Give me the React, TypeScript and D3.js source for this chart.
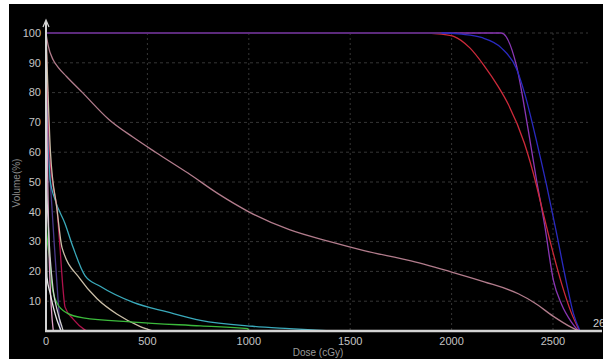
import React, { useEffect, useRef } from "react";
import * as d3 from "d3";

// DVH curves: [dose cGy, volume %]
const ptvViolet: [number, number][] = [
  [0, 100], [1000, 100], [2245, 100], [2320, 89], [2379, 67], [2418, 51],
  [2460, 35], [2502, 17], [2542, 9], [2591, 3], [2626, 0],
];
const ptvRed: [number, number][] = [
  [0, 100], [1850, 100], [1950, 99.6], [2013, 98.8], [2090, 95], [2161, 89],
  [2230, 82], [2280, 76], [2359, 63], [2418, 49], [2443, 42], [2490, 29],
  [2542, 16], [2591, 6], [2631, 0],
];
const ptvBlue: [number, number][] = [
  [0, 100], [1950, 100], [2050, 99.6], [2146, 98.5], [2245, 95], [2320, 88],
  [2359, 80], [2418, 64], [2468, 49], [2517, 33], [2567, 16], [2600, 6], [2633, 0],
];
const bodyMauve: [number, number][] = [
  [0, 100], [10, 96], [35, 91], [60, 88.5], [100, 85.5], [180, 80], [310, 71],
  [430, 65], [540, 60], [700, 53], [850, 46], [1000, 40], [1200, 34],
  [1400, 30], [1568, 27], [1800, 23.5], [2013, 19.5], [2161, 16.5],
  [2329, 12.5], [2408, 9.5], [2500, 5], [2591, 1.2], [2626, 0],
];
const cyanOar: [number, number][] = [
  [0, 88], [5, 80], [10, 70], [15, 60], [20, 51], [45, 44], [94, 36],
  [134, 28], [193, 18.5], [267, 15], [430, 9.6], [598, 6.4], [762, 3.6],
  [1019, 1.6], [1200, 0.8], [1404, 0],
];
const crimsonOar: [number, number][] = [
  [0, 100], [8, 80], [18, 60], [30, 51], [54, 41], [69, 28], [84, 14],
  [94, 8], [134, 4], [193, 0.3], [200, 0],
];
const tanOar: [number, number][] = [
  [0, 100], [10, 80], [22, 60], [54, 41], [79, 28], [168, 17.5], [252, 10.8],
  [351, 5.6], [465, 1.5], [530, 0],
];
const greenOar: [number, number][] = [
  [0, 38], [5, 32], [20, 23], [30, 15], [54, 9.4], [104, 6], [183, 4.4],
  [430, 3], [762, 1.7], [994, 0.8], [1000, 0],
];
const whiteA: [number, number][] = [
  [0, 42], [5, 18], [20, 12.8], [54, 3.7], [69, 1], [75, 0],
];
const whiteB: [number, number][] = [
  [0, 52], [20, 25], [35, 14], [59, 6], [79, 1.3], [85, 0],
];
const pinkOar: [number, number][] = [
  [0, 100], [3, 78], [6, 62], [10, 44], [16, 24], [26, 8], [36, 0],
];
const navyOar: [number, number][] = [
  [0, 100], [4, 80], [9, 65], [16, 55], [26, 45], [40, 30], [60, 10], [70, 0],
];

const curves = [
  { data: ptvViolet, color: "#8a36b4" },
  { data: ptvRed, color: "#cc2a3a" },
  { data: ptvBlue, color: "#2a2ac0" },
  { data: bodyMauve, color: "#b27c8c" },
  { data: navyOar, color: "#4a3a8a" },
  { data: cyanOar, color: "#3aaabb" },
  { data: crimsonOar, color: "#b0124c" },
  { data: tanOar, color: "#cbbfa8" },
  { data: greenOar, color: "#3cba3c" },
  { data: pinkOar, color: "#e0a0c8" },
  { data: whiteA, color: "#e6e6e6" },
  { data: whiteB, color: "#d0d0d0" },
];

const xTicks = [0, 500, 1000, 1500, 2000, 2500];
const yTicks = [10, 20, 30, 40, 50, 60, 70, 80, 90, 100];
const yGrid = [10, 20, 30, 40, 50, 60, 70, 80, 90, 100];

export default function App() {
  const svgRef = useRef<SVGSVGElement>(null);
  const width = 603;
  const height = 359;

  useEffect(() => {
    const svg = d3.select(svgRef.current);
    svg.selectAll("*").remove();

    const x = d3.scaleLinear().domain([0, 2500]).range([46, 553]);
    const y = d3.scaleLinear().domain([0, 100]).range([331, 33]);

    svg.append("rect").attr("width", width).attr("height", height).attr("fill", "#ffffff");
    svg.append("rect").attr("x", 9).attr("y", 4).attr("width", width - 9).attr("height", height - 4).attr("fill", "#000000");

    // grid
    yGrid.forEach((t) => {
      svg.append("line")
        .attr("x1", x(0)).attr("x2", 588)
        .attr("y1", y(t)).attr("y2", y(t))
        .style("stroke", "#363636")
        .style("stroke-dasharray", "3,3");
    });
    xTicks.slice(1).forEach((t) => {
      svg.append("line")
        .attr("x1", x(t)).attr("x2", x(t))
        .attr("y1", y(100)).attr("y2", y(0))
        .style("stroke", "#363636")
        .style("stroke-dasharray", "2,3");
    });

    // curves
    const line = d3.line<[number, number]>()
      .x((d) => x(d[0]))
      .y((d) => y(d[1]))
      .curve(d3.curveMonotoneX);
    curves.forEach((c) => {
      svg.append("path")
        .attr("d", line(c.data))
        .attr("fill", "none")
        .attr("stroke", c.color)
        .attr("stroke-width", 1.3);
    });
    // top plateau line
    svg.append("line")
      .attr("x1", x(0)).attr("x2", x(1950))
      .attr("y1", y(100)).attr("y2", y(100))
      .attr("stroke", "#5c2a7c").attr("stroke-width", 2);

    // axes
    const axisColor = "#d4d4d4";
    svg.append("line")
      .attr("x1", x(0)).attr("x2", x(0))
      .attr("y1", y(0) + 1).attr("y2", 22)
      .attr("stroke", axisColor).attr("stroke-width", 2);
    svg.append("path")
      .attr("d", `M${x(0) - 3},${27} L${x(0)},${20} L${x(0) + 3},${27}`)
      .attr("fill", "none").attr("stroke", axisColor).attr("stroke-width", 1.2);
    svg.append("line")
      .attr("x1", x(0) - 1).attr("x2", 602)
      .attr("y1", y(0)).attr("y2", y(0))
      .attr("stroke", axisColor).attr("stroke-width", 2.5);

    const font = "Liberation Sans, Arial, sans-serif";
    svg.selectAll(".ytick")
      .data(yTicks)
      .enter()
      .append("text")
      .attr("x", 41)
      .attr("y", (d) => y(d))
      .attr("dy", "0.35em")
      .attr("text-anchor", "end")
      .attr("fill", "#c4c4c4")
      .style("font-family", font)
      .style("font-size", "11px")
      .text((d) => d);

    svg.selectAll(".xtick")
      .data(xTicks)
      .enter()
      .append("text")
      .attr("x", (d) => x(d))
      .attr("y", 345)
      .attr("text-anchor", "middle")
      .attr("fill", "#c4c4c4")
      .style("font-family", font)
      .style("font-size", "11px")
      .text((d) => d);

    svg.append("text")
      .attr("x", 593).attr("y", 327)
      .attr("fill", "#d0d0d0")
      .style("font-family", font)
      .style("font-size", "11px")
      .text("2650");

    svg.append("text")
      .attr("x", 318).attr("y", 356)
      .attr("text-anchor", "middle")
      .attr("fill", "#9a9a9a")
      .style("font-family", font)
      .style("font-size", "10px")
      .text("Dose (cGy)");

    svg.append("text")
      .attr("transform", `translate(20,183) rotate(-90)`)
      .attr("text-anchor", "middle")
      .attr("fill", "#8a8a8a")
      .style("font-family", font)
      .style("font-size", "10px")
      .text("Volume(%)");
  }, []);

  return (
    <svg
      ref={svgRef}
      width={width}
      height={height}
      style={{ position: "absolute", left: 0, top: 0, display: "block" }}
    />
  );
}
